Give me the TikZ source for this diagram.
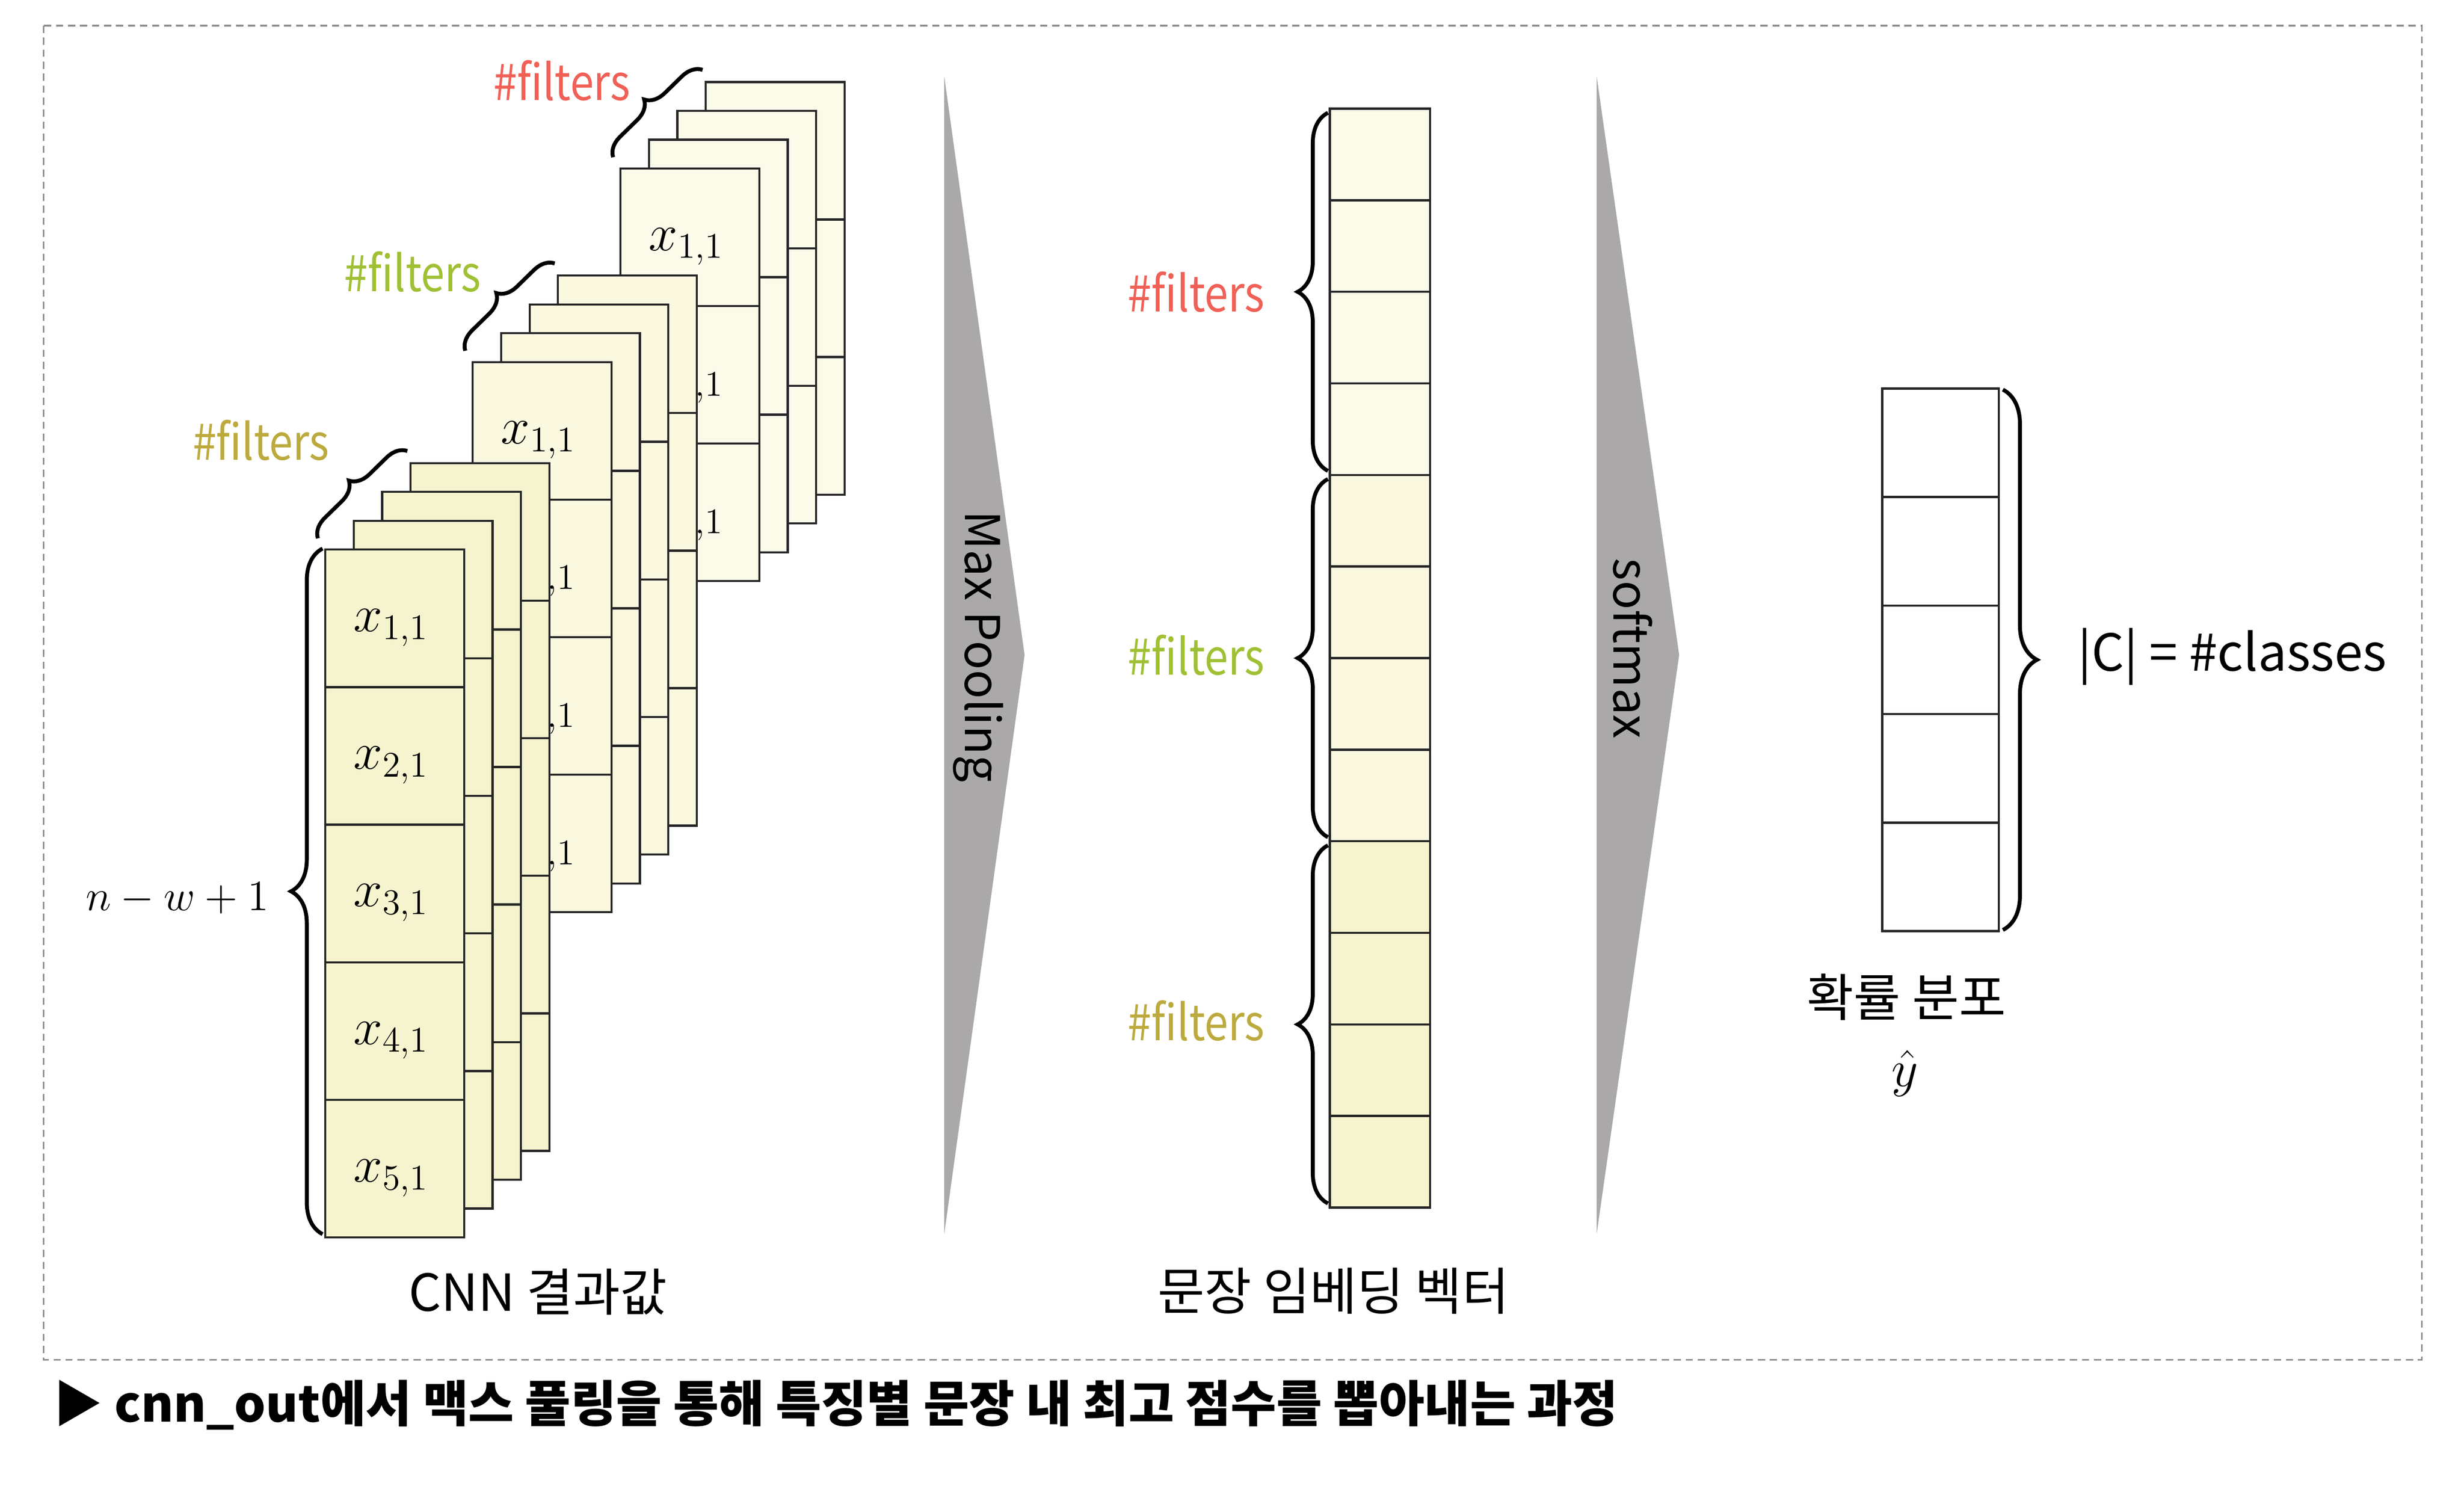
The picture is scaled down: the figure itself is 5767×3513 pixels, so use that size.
\documentclass[tikz,border=0pt]{standalone}
\usepackage[no-math]{fontspec}
\setmainfont{Noto Sans CJK KR}
\newfontfamily\narrowfont[FakeStretch=0.86]{Noto Sans CJK KR}
\usetikzlibrary{calc,decorations.pathreplacing}

\definecolor{fillA}{RGB}{246,244,206}
\definecolor{fillB}{RGB}{250,249,224}
\definecolor{fillC}{RGB}{252,251,234}
\definecolor{filtRed}{RGB}{240,96,86}
\definecolor{filtGreen}{RGB}{160,192,52}
\definecolor{filtOlive}{RGB}{188,170,62}
\definecolor{poolgray}{RGB}{170,168,168}

\tikzset{
  cnncell/.style={draw=black!85, line width=0.7pt, inner sep=0pt, anchor=north west,
    minimum width=1.625cm, minimum height=1.61cm},
  celltext/.style={font=\fontsize{16.5}{19}\selectfont, inner sep=0pt, xshift=-0.04cm, yshift=-0.11cm},
  veccell/.style={draw=black!85, line width=0.7pt, inner sep=0pt, anchor=north west,
    minimum width=1.1725cm, minimum height=1.072cm},
  outcell/.style={draw=black!85, line width=0.7pt, inner sep=0pt, anchor=north west,
    minimum width=1.365cm, minimum height=1.27cm, fill=white},
  bracedeco/.style={decorate, decoration={brace, amplitude=#1}, line width=1.3pt},
  lbl/.style={font=\fontsize{17}{20}\selectfont, inner sep=0pt},
  filtlbl/.style={font=\narrowfont\fontsize{16.5}{20}\selectfont, inner sep=0pt, anchor=east},
  framebox/.style={draw=black!45, line width=0.5pt, dash pattern=on 2.4pt off 1.6pt},
}

\begin{document}
\begin{tikzpicture}[x=0.005cm, y=-0.005cm]
    \useasboundingbox (0,0) rectangle (5767,3513);

    % Frame
    \draw[framebox] (102,60) rectangle (5668,3183);

    % CNN output: three filter groups, drawn back to front
    \foreach \g/\gx/\gy/\n/\col in {3/1450/392/3/fillC, 2/1104/845/4/fillB, 1/759/1284/5/fillA} {
        \foreach \l in {3,2,1,0} {
            \foreach \c in {1,...,\n} {
                \node[cnncell, fill=\col] (g\g-\l-\c) at ({\gx+66.5*\l}, {\gy-67.5*\l+322*(\c-1)}) {};
            }
        }
        % entries of the front layer
        \foreach \c in {1,...,\n}
        \node[celltext] (x\g-\c) at (g\g-0-\c) {$x_{\c,1}$};
    }

    % Braces over the filter layers
    \foreach \g in {1,2,3}
    \draw[bracedeco=0.23cm] ($(g\g-0-1.north west)+(-15,-24)$) -- ($(g\g-3-1.north west)+(-5,-26)$);
    \node[filtlbl, text=filtOlive] (filtA) at (772,1031) {\#filters};
    \node[filtlbl, text=filtGreen] (filtB) at (1127,636) {\#filters};
    \node[filtlbl, text=filtRed] (filtC) at (1476,189) {\#filters};

    % Length of the front column
    \draw[bracedeco=0.37cm] ($(g1-0-5.south west)+(-4,-10)$) -- ($(g1-0-1.north west)+(-4,0)$);
    \node[lbl, anchor=east, font=\fontsize{15}{18}\selectfont] (lenlabel) at (630,2103) {$n-w+1$};
    \node[lbl] (cnnlabel) at (1259,3024) {CNN 결과값};

    % Max Pooling
    \fill[poolgray] (2210,179) -- (2398,1533) -- (2210,2888) -- cycle;
    \node[lbl, rotate=-90, font=\fontsize{16}{19}\selectfont] (pooltext) at (2290,1513) {Max Pooling};

    % Sentence embedding vector
    \foreach \c/\col in {1/fillC, 2/fillC, 3/fillC, 4/fillC, 5/fillB, 6/fillB, 7/fillB, 8/fillB, 9/fillA, 10/fillA, 11/fillA, 12/fillA}
    \node[veccell, fill=\col] (emb-\c) at (3110, {252+214.33*(\c-1)}) {};
    \foreach \a/\b in {1/4, 5/8, 9/12}
    \draw[bracedeco=0.355cm] ($(emb-\b.south west)+(-2,-12)$) -- ($(emb-\a.north west)+(-2,12)$);
    \node[filtlbl, text=filtRed] (embfiltC) at (2961,683) {\#filters};
    \node[filtlbl, text=filtGreen] (embfiltB) at (2961,1533) {\#filters};
    \node[filtlbl, text=filtOlive] (embfiltA) at (2961,2389) {\#filters};
    \node[lbl] (emblabel) at (3121,3022) {문장 임베딩 벡터};

    % softmax
    \fill[poolgray] (3737,179) -- (3930,1533) -- (3737,2888) -- cycle;
    \node[lbl, rotate=-90, font=\fontsize{16}{19}\selectfont] (softtext) at (3822,1518) {softmax};

    % Output distribution
    \foreach \c in {1,...,5}
    \node[outcell] (out-\c) at (4403, {907+254*(\c-1)}) {};
    \draw[bracedeco=0.4cm] ($(out-1.north east)+(7,5)$) -- ($(out-5.south east)+(7,-5)$);
    \node[lbl, anchor=west] (classlabel) at (4862,1537) {|C| = \#classes};
    \node[lbl] (problabel) at (4462,2334) {확률 분포};
    \node[lbl, font=\fontsize{17}{20}\selectfont] (yhat) at (4458,2512) {$\hat{y}$};

    % Caption
    \node[lbl, anchor=west, font=\fontsize{16.5}{19}\selectfont\bfseries] (caption) at (124,3288) {▶ cnn\_out에서 맥스 풀링을 통해 특징별 문장 내 최고 점수를 뽑아내는 과정};
\end{tikzpicture}
\end{document}
